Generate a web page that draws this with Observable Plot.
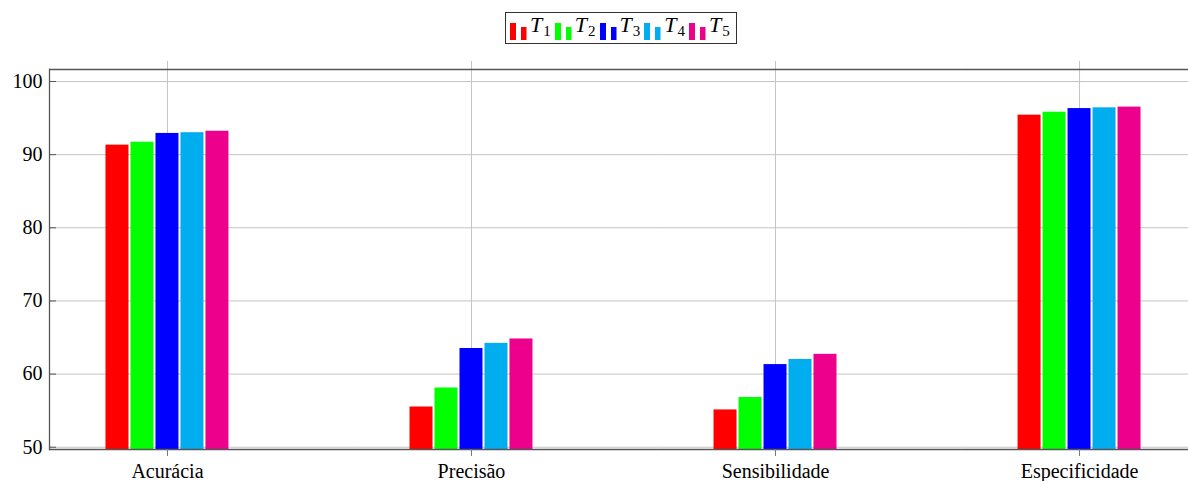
<!DOCTYPE html>
<html>
<head>
<meta charset="utf-8">
<script src="https://cdn.jsdelivr.net/npm/d3@7"></script>
<script src="https://cdn.jsdelivr.net/npm/@observablehq/plot@0.6"></script>
<style>
  html, body { margin: 0; padding: 0; background: #fff; overflow: hidden; }
  #wrap { width: 1188px; height: 481px; position: relative; }
  #head { height: 52px; position: relative; }
  .legend {
    position: absolute; left: 505px; top: 12px; height: 30px;
    border: 1.5px solid #333; display: flex; align-items: center;
    padding: 0 6px 0 4px; box-sizing: content-box;
    font-family: "Liberation Serif", serif; font-size: 22px; color: #000;
  }
  .entry { display: flex; align-items: flex-end; margin-right: 4px; }
  .entry:last-child { margin-right: 0; }
  .entry svg { margin-right: 3px; margin-bottom: 3px; }
  .entry .t { font-style: italic; line-height: 24px; }
  .entry sub { font-style: normal; font-size: 15px; vertical-align: -4px; margin-left: 1px; }
  svg.plot { display: block; }
</style>
</head>
<body>
<div id="wrap">
  <div id="head"><div class="legend" id="legend"></div></div>
  <div id="chart"></div>
</div>
<script>
const categories = ["Acurácia", "Precisão", "Sensibilidade", "Especificidade"];
const series = ["T1", "T2", "T3", "T4", "T5"];
const seriesIndex = ["1", "2", "3", "4", "5"];
const t1 = [91.3, 55.5, 55.1, 95.4];
const t2 = [91.7, 58.1, 56.8, 95.8];
const t3 = [92.9, 63.5, 61.3, 96.3];
const t4 = [93.0, 64.2, 62.0, 96.4];
const t5 = [93.2, 64.8, 62.7, 96.5];
const yTicks = [50, 60, 70, 80, 90, 100];
const colors = ["#ff0000", "#00ff00", "#0000ff", "#00aeef", "#ec008c"];

const values = [t1, t2, t3, t4, t5];
const data = [];
categories.forEach((c, ci) => series.forEach((s, si) => data.push({category: c, series: s, value: values[si][ci]})));

const yDomain = [49.69, 101.64];
const gridColor = "#c4c4c4";
const frameColor = "#555";
const facetGap = -68.1;

// legend
const legend = document.getElementById("legend");
series.forEach((s, i) => {
  const e = document.createElement("div");
  e.className = "entry";
  e.innerHTML = `<svg width="17" height="17"><rect x="0" y="0" width="6" height="17" fill="${colors[i]}"/><rect x="11" y="4" width="5.5" height="13" fill="${colors[i]}"/></svg><span class="t">T<sub>${seriesIndex[i]}</sub></span>`;
  legend.appendChild(e);
});

const chart = Plot.plot({
  width: 1188,
  height: 429,
  marginLeft: 49,
  marginRight: 0,
  marginTop: 17,
  marginBottom: 32,
  style: {fontFamily: "Liberation Serif, serif", fontSize: "20px", color: "#000", background: "#fff"},
  fx: {domain: categories, range: [49, 1197], paddingInner: 0.224, paddingOuter: 0, round: false, label: null},
  x: {domain: series, paddingInner: 0.08, paddingOuter: 2.26, round: false, axis: null},
  y: {domain: yDomain, label: null},
  color: {domain: series, range: colors},
  marks: [
    Plot.ruleY(yTicks, {stroke: gridColor, strokeWidth: 1, insetRight: facetGap}),
    Plot.ruleX([0], {x: null, stroke: gridColor, strokeWidth: 1, insetTop: -8}),
    Plot.barY(data, {fx: "category", x: "series", y1: yDomain[0], y2: "value", fill: "series"}),
    Plot.ruleY([yDomain[0], yDomain[1]], {stroke: frameColor, strokeWidth: 1.3, insetRight: facetGap}),
    Plot.frame({anchor: "left", facetAnchor: "left", stroke: frameColor, strokeWidth: 1.3}),
    Plot.axisY({ticks: yTicks, tickSize: -7, tickPadding: 14, stroke: frameColor, fontSize: 20, label: null}),
    Plot.axisFx({anchor: "bottom", tickSize: 7, tickPadding: 7, stroke: "#777", fontSize: 20, label: null})
  ]
});
document.getElementById("chart").appendChild(chart);
</script>
</body>
</html>
